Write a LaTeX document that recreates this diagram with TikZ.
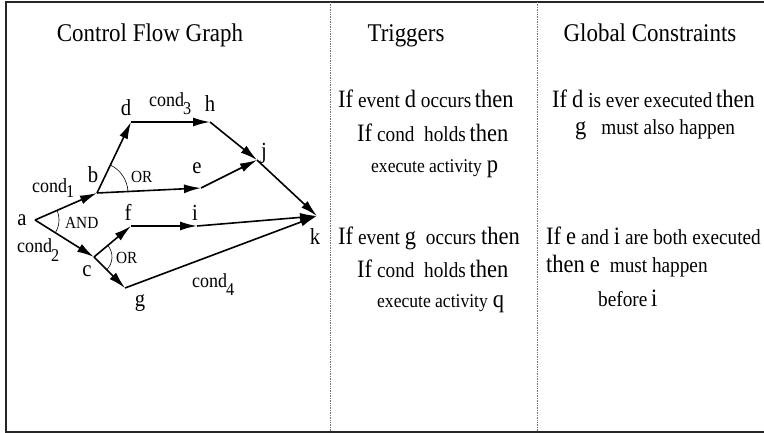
\documentclass[tikz,border=0pt]{standalone}
\usepackage{fontspec}
\setmainfont[FakeStretch=0.9]{Liberation Serif}
\usetikzlibrary{arrows.meta, angles, positioning}

\newcommand{\tbig}[1]{{\fontsize{25}{28}\selectfont #1}}
\newcommand{\tsmall}[1]{{\fontsize{21.4}{24}\selectfont #1}}
\newcommand{\tsmaller}[1]{{\fontsize{19.5}{22}\selectfont #1}}
\newcommand{\cnd}[2]{cond\kern-1pt\raisebox{#1}{\fontsize{18}{20}\selectfont #2}}

\begin{document}
\begin{tikzpicture}[x=1pt, y=1pt,
  flow/.style={-{Latex[length=17pt,width=9pt]}, line width=1.6pt},
  vname/.style={font=\fontsize{23}{26}\selectfont, anchor=base, inner sep=0pt},
  cname/.style={font=\fontsize{20}{22}\selectfont, anchor=base west, inner sep=0pt},
  gate/.style={font=\fontsize{17}{20}\selectfont, anchor=base west, inner sep=0pt},
  head/.style={font=\fontsize{25.5}{29}\selectfont, anchor=base},
  rule/.style={font=\fontsize{22}{26}\selectfont, anchor=base west, inner sep=0pt},
  sep/.style={densely dotted, line width=0.7pt, black!55}
]
\useasboundingbox (0,0) rectangle (764,433);

% Frame and columns
\draw[line width=1.3pt, black!85] (768,431) -- (6,431) -- (6,1) -- (768,1);
\draw[sep] (330,431) -- (330,1);
\draw[sep] (537,431) -- (537,1);

% Headings
\node[head] (hcfg) at (150,391) {Control Flow Graph};
\node[head] (htrg) at (406,391) {Triggers};
\node[head] (hglb) at (650,391) {Global Constraints};

% Graph vertices
\coordinate (a) at (35,213);
\coordinate (b) at (97,240);
\coordinate (c) at (94,176);
\coordinate (d) at (131,311);
\coordinate (h) at (210,311);
\coordinate (j) at (257,273);
\coordinate (e) at (201,245);
\coordinate (f) at (131,207);
\coordinate (i) at (197,207);
\coordinate (k) at (317,217);
\coordinate (g) at (125,145);

% Edges
\draw[flow] (a) -- (b);
\draw[flow] (a) -- (c);
\draw[flow] (b) -- (d);
\draw[flow] (d) -- (h);
\draw[flow] (h) -- (j);
\draw[flow] (b) -- (e);
\draw[flow] (e) -- (j);
\draw[flow] (j) -- (k);
\draw[flow] (c) -- (f);
\draw[flow] (f) -- (i);
\draw[flow] (i) -- (k);
\draw[flow] (c) -- (g);
\draw[flow] (g) -- (k);

% Split gates
\pic[draw, line width=0.6pt, angle radius=24pt] {angle = c--a--b};
\pic[draw, line width=0.6pt, angle radius=31pt] {angle = e--b--d};
\pic[draw, line width=0.6pt, angle radius=18pt] {angle = g--c--f};
\node[gate] (gand) at (65,204) {AND};
\node[gate] (gorb) at (131,250) {OR};
\node[gate] (gorc) at (116,169) {OR};

% Vertex names
\node[vname] (la) at (22,207) {a};
\node[vname] (lb) at (93,250) {b};
\node[vname] (lc) at (87,156) {c};
\node[vname] (ld) at (126,317) {d};
\node[vname] (lh) at (210,321) {h};
\node[vname] (lj) at (264,274) {j};
\node[vname] (le) at (197,259) {e};
\node[vname] (lf) at (128,212) {f};
\node[vname] (li) at (195,212) {i};
\node[vname] (lk) at (315,188) {k};
\node[vname] (lg) at (140,126) {g};

% Conditions
\node[cname] (cnd1) at (32,240) {\cnd{-5pt}{1}};
\node[cname] (cnd2) at (17,180) {\cnd{-9pt}{2}};
\node[cname] (cnd3) at (149,326) {\cnd{-8pt}{3}};
\node[cname] (cnd4) at (192,145) {\cnd{-8pt}{4}};

% Triggers
\node[rule] (trg1) at (338,325) {\tbig{If} \tsmall{event} \tbig{d} \tsmall{occurs}\,\tbig{then}};
\node[rule] (trg2) at (357,291) {\tbig{If} \tsmall{cond\ \ holds}\,\tbig{then}};
\node[rule] (trg3) at (371,260) {\tsmaller{execute activity} \tbig{p}};
\node[rule] (trg4) at (338,188) {\tbig{If} \tsmall{event} \tbig{g} \ \tsmall{occurs} \tbig{then}};
\node[rule] (trg5) at (357,155) {\tbig{If} \tsmall{cond\ \ holds}\,\tbig{then}};
\node[rule] (trg6) at (377,125) {\tsmaller{execute activity} \tbig{q}};

% Global constraints
\node[rule] (glb1) at (552,325) {\tbig{If} \tbig{d} \tsmall{is ever executed}\,\tbig{then}};
\node[rule] (glb2) at (575,298) {\tbig{g} \ \ \tsmall{must also happen}};
\node[rule] (glb3) at (546,188) {\tbig{If} \tbig{e} \tsmall{and} \tbig{i} \tsmall{are both executed}};
\node[rule] (glb4) at (546,160) {\tbig{then} \tbig{e} \ \tsmall{must happen}};
\node[rule] (glb5) at (598,126) {\tsmall{before}\,\tbig{i}};
\end{tikzpicture}
\end{document}
